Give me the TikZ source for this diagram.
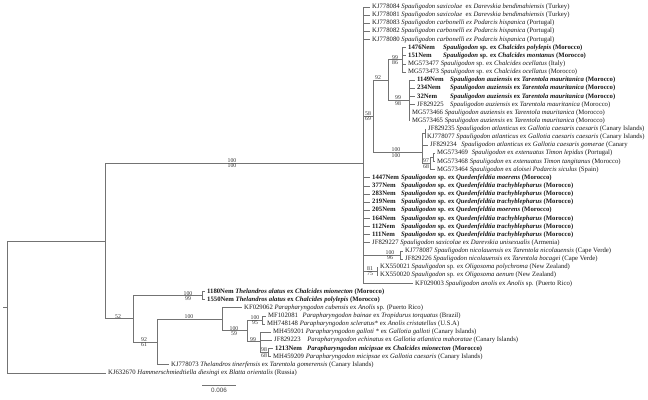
\documentclass[tikz,border=0pt]{standalone}
\usepackage{fontspec}
\setmainfont{Liberation Serif}
\newfontfamily\scalefnt{Liberation Sans}
\tikzset{
  br/.style={draw=black!55, line width=0.7pt},
  leaf/.style={anchor=west, inner sep=0pt, text=black!90, font=\fontsize{6.7}{7}\selectfont},
  nem/.style={leaf, font=\fontsize{6.7}{7}\selectfont\bfseries},
  bsa/.style={above=0.3pt, inner sep=0pt, text=black!80, font=\fontsize{5.8}{6}\selectfont},
  bsb/.style={below=0.5pt, inner sep=0pt, text=black!80, font=\fontsize{5.8}{6}\selectfont},
}
\newcommand\TreeLeaf[6]{\node[#5] (#1) at (#3,#4) {#6}; \draw[br] (#2) |- ([xshift=-2.5pt]#1.west);}
\begin{document}
\begin{tikzpicture}[x=1pt,y=-8.13pt]
\useasboundingbox (0,-0.861) rectangle (648,48.339);
% internal nodes
\coordinate (rootstub) at (3,36.882);
\coordinate (root) at (7,36.882);
\coordinate (N1) at (105,28.77);
\coordinate (S) at (363,19.19);
\coordinate (A) at (373,13.45);
\coordinate (B) at (388,9);
\coordinate (C) at (402,6.5);
\coordinate (D) at (409,11.5);
\coordinate (E) at (422,17.9);
\coordinate (E1) at (425,15.5);
\coordinate (F) at (430,19.25);
\coordinate (G) at (433,18.5);
\coordinate (Nic) at (400,30.5);
\coordinate (Oli) at (377,32.5);
\coordinate (K) at (133,38.354);
\coordinate (TA) at (202,35.5);
\coordinate (H) at (157,41.208);
\coordinate (P) at (222,38.417);
\coordinate (Q) at (247,39.833);
\coordinate (R) at (262,38.5);
\coordinate (T) at (260,41.167);
\coordinate (U) at (268,42.5);
% internal branches
\draw[br] (rootstub) -- (root);
\draw[br] (root) |- (N1);
\draw[br] (N1) |- (S);
\draw[br] (N1) |- (K);
\draw[br] (S) |- (A);
\draw[br] (A) |- (B);
\draw[br] (A) |- (E);
\draw[br] (B) |- (C);
\draw[br] (B) |- (D);
\draw[br] (E) |- (E1);
\draw[br] (E) |- (F);
\draw[br] (F) |- (G);
\draw[br] (S) |- (Nic);
\draw[br] (S) |- (Oli);
\draw[br] (K) |- (TA);
\draw[br] (K) |- (H);
\draw[br] (H) |- (P);
\draw[br] (P) |- (Q);
\draw[br] (Q) |- (R);
\draw[br] (Q) |- (T);
\draw[br] (T) |- (U);
% leaves
\TreeLeaf{L1}{S}{372}{0}{leaf}{KJ778084 \textit{Spauligodon saxicolae}\enspace ex \textit{Darevskia bendimahiensis} (Turkey)}
\TreeLeaf{L2}{S}{372}{1}{leaf}{KJ778081 \textit{Spauligodon saxicolae}\enspace ex \textit{Darevskia bendimahiensis} (Turkey)}
\TreeLeaf{L3}{S}{372}{2}{leaf}{KJ778083 \textit{Spauligodon carbonelli ex Podarcis hispanica} (Portugal)}
\TreeLeaf{L4}{S}{372}{3}{leaf}{KJ778082 \textit{Spauligodon carbonelli ex Podarcis hispanica} (Portugal)}
\TreeLeaf{L5}{S}{372}{4}{leaf}{KJ778080 \textit{Spauligodon carbonelli ex Podarcis hispanica} (Portugal)}
\TreeLeaf{L6}{C}{408}{5}{nem}{\makebox[35pt][l]{1476Nem}\textit{Spauligodon} sp. ex \textit{Chalcides polylepis} (Morocco)}
\TreeLeaf{L7}{C}{408}{6}{nem}{\makebox[35pt][l]{151Nem}\textit{Spauligodon} sp. ex \textit{Chalcides montanus} (Morocco)}
\TreeLeaf{L8}{C}{408}{7}{leaf}{MG573477 \textit{Spauligodon} sp. ex \textit{Chalcides ocellatus} (Italy)}
\TreeLeaf{L9}{C}{408}{8}{leaf}{MG573473 \textit{Spauligodon} sp. ex \textit{Chalcides ocellatus} (Morocco)}
\TreeLeaf{L10}{D}{417}{9}{nem}{\makebox[33pt][l]{1149Nem}\textit{Spauligodon auziensis} ex \textit{Tarentola mauritanica} (Morocco)}
\TreeLeaf{L11}{D}{417}{10}{nem}{\makebox[33pt][l]{234Nem}\textit{Spauligodon auziensis} ex \textit{Tarentola mauritanica} (Morocco)}
\TreeLeaf{L12}{D}{417}{11}{nem}{\makebox[33pt][l]{32Nem}\textit{Spauligodon auziensis} ex \textit{Tarentola mauritanica} (Morocco)}
\TreeLeaf{L13}{D}{417}{12}{leaf}{\makebox[33pt][l]{JF829225}\textit{Spauligodon auziensis} ex \textit{Tarentola mauritanica} (Morocco)}
\TreeLeaf{L14}{D}{412}{13}{leaf}{MG573466 \textit{Spauligodon auziensis} ex \textit{Tarentola mauritanica} (Morocco)}
\TreeLeaf{L15}{D}{412}{14}{leaf}{MG573465 \textit{Spauligodon auziensis} ex \textit{Tarentola mauritanica} (Morocco)}
\TreeLeaf{L16}{E1}{428}{15}{leaf}{JF829235 \textit{Spauligodon atlanticus} ex \textit{Gallotia caesaris caesaris} (Canary Islands)}
\TreeLeaf{L17}{E1}{427}{16}{leaf}{KJ778077 \textit{Spauligodon atlanticus} ex \textit{Gallotia caesaris caesaris} (Canary Islands)}
\TreeLeaf{L18}{E}{430}{17}{leaf}{JF829234\hspace{3pt} \textit{Spauligodon atlanticus} ex \textit{Gallotia caesaris gomerae} (Canary}
\TreeLeaf{L19}{G}{437}{18}{leaf}{MG573469\hspace{2pt} \textit{Spauligodon} ex \textit{extenuatus Timon lepidus} (Portugal)}
\TreeLeaf{L20}{G}{437}{19}{leaf}{MG573468 \textit{Spauligodon} ex \textit{extenuatus Timon tangitanus} (Morocco)}
\TreeLeaf{L21}{F}{437}{20}{leaf}{MG573464 \textit{Spauligodon} ex \textit{aloisei Podarcis siculus} (Spain)}
\TreeLeaf{L22}{S}{372}{21}{nem}{\makebox[29pt][l]{1447Nem}\textit{Spauligodon} sp. ex \textit{Quedenfeldtia moerens} (Morocco)}
\TreeLeaf{L23}{S}{372}{22}{nem}{\makebox[29pt][l]{377Nem}\textit{Spauligodon} sp. ex \textit{Quedenfeldtia trachyblepharus} (Morocco)}
\TreeLeaf{L24}{S}{372}{23}{nem}{\makebox[29pt][l]{283Nem}\textit{Spauligodon} sp. ex \textit{Quedenfeldtia trachyblepharus} (Morocco)}
\TreeLeaf{L25}{S}{372}{24}{nem}{\makebox[29pt][l]{219Nem}\textit{Spauligodon} sp. ex \textit{Quedenfeldtia trachyblepharus} (Morocco)}
\TreeLeaf{L26}{S}{372}{25}{nem}{\makebox[29pt][l]{205Nem}\textit{Spauligodon} sp. ex \textit{Quedenfeldtia moerens} (Morocco)}
\TreeLeaf{L27}{S}{372}{26}{nem}{\makebox[29pt][l]{164Nem}\textit{Spauligodon} sp. ex \textit{Quedenfeldtia trachyblepharus} (Morocco)}
\TreeLeaf{L28}{S}{372}{27}{nem}{\makebox[29pt][l]{112Nem}\textit{Spauligodon} sp. ex \textit{Quedenfeldtia trachyblepharus} (Morocco)}
\TreeLeaf{L29}{S}{372}{28}{nem}{\makebox[29pt][l]{111Nem}\textit{Spauligodon} sp. ex \textit{Quedenfeldtia trachyblepharus} (Morocco)}
\TreeLeaf{L30}{S}{372}{29}{leaf}{JF829227 \textit{Spauligodon saxicolae} ex \textit{Darevskia unisexualis} (Armenia)}
\TreeLeaf{L31}{Nic}{405}{30}{leaf}{KJ778087 \textit{Spauligodon nicolauensis} ex \textit{Tarentola nicolauensis} (Cape Verde)}
\TreeLeaf{L32}{Nic}{405}{31}{leaf}{JF829226 \textit{Spauligodon nicolauensis} ex \textit{Tarentola bocagei} (Cape Verde)}
\TreeLeaf{L33}{Oli}{380}{32}{leaf}{KX550021 \textit{Spauligodon} sp. ex \textit{Oligosoma polychroma} (New Zealand)}
\TreeLeaf{L34}{Oli}{380}{33}{leaf}{KX550020 \textit{Spauligodon} sp. ex \textit{Oligosoma aenum} (New Zealand)}
\TreeLeaf{L35}{S}{415}{34}{leaf}{KF029003 \textit{Spauligodon anolis} ex \textit{Anolis} sp. (Puerto Rico)}
\TreeLeaf{L36}{TA}{207}{35}{nem}{1180Nem \textit{Thelandros alatus} ex \textit{Chalcides mionecton} (Morocco)}
\TreeLeaf{L37}{TA}{207}{36}{nem}{1550Nem \textit{Thelandros alatus} ex \textit{Chalcides polylepis} (Morocco)}
\TreeLeaf{L38}{P}{244}{37}{leaf}{KF029062 \textit{Parapharyngodon cubensis} ex \textit{Anolis} sp. (Puerto Rico)}
\TreeLeaf{L39}{R}{268}{38}{leaf}{MF102081\hspace{3pt} \textit{Parapharyngodon bainae} ex \textit{Tropidurus torquatus} (Brazil)}
\TreeLeaf{L40}{R}{267}{39}{leaf}{MH748148 \textit{Parapharyngodon scleratus}* ex \textit{Anolis cristatellus} (U.S.A)}
\TreeLeaf{L41}{T}{273}{40}{leaf}{MH459201 \textit{Parapharyngodon galloti} * ex \textit{Gallotia galloti} (Canary Islands)}
\TreeLeaf{L42}{T}{274}{41}{leaf}{JF829223\hspace{5pt} \textit{Parapharyngodon echinatus} ex \textit{Gallotia atlantica mahoratae} (Canary Islands)}
\TreeLeaf{L43}{U}{275}{42}{nem}{\makebox[32pt][l]{1213Nem}\textit{Parapharyngodon micipsae} ex \textit{Chalcides mionecton} (Morocco)}
\TreeLeaf{L44}{U}{273}{43}{leaf}{MH459209 \textit{Parapharyngodon micipsae} ex \textit{Gallotia caesaris} (Canary Islands)}
\TreeLeaf{L45}{H}{171}{44}{leaf}{KJ778073 \textit{Thelandros tinerfensis} ex \textit{Tarentola gomerensis} (Canary Islands)}
\TreeLeaf{L46}{root}{108}{45}{leaf}{KJ632670 \textit{Hammerschmiedtiella diesingi} ex \textit{Blatta orientalis} (Russia)}
% support values
\node[bsa] (bS1) at (232,19.19) {100};
\node[bsb] (bS2) at (232,19.19) {100};
\node[bsa] (bA1) at (368,13.45) {58};
\node[bsb] (bA2) at (368,13.45) {69};
\node[bsa] (bB1) at (378,9) {92};
\node[bsa] (bC1) at (395,6.5) {99};
\node[bsb] (bC2) at (395,6.5) {86};
\node[bsa] (bD1) at (398,11.5) {99};
\node[bsb] (bD2) at (398,11.5) {98};
\node[bsa] (bE1) at (396,17.9) {100};
\node[bsb] (bE2) at (396,17.9) {100};
\node[bsa] (bF1) at (426,19.25) {97};
\node[bsb] (bF2) at (426,19.25) {68};
\node[bsa] (bN1) at (390,30.5) {100};
\node[bsb] (bN2) at (390,30.5) {96};
\node[bsa] (bO1) at (370,32.5) {81};
\node[bsb] (bO2) at (370,32.5) {75};
\node[bsa] (bK1) at (118,38.354) {52};
\node[bsa] (bTA1) at (188,35.5) {100};
\node[bsb] (bTA2) at (188,35.5) {99};
\node[bsa] (bH1) at (144,41.208) {92};
\node[bsb] (bH2) at (144,41.208) {61};
\node[bsa] (bP1) at (189,38.417) {100};
\node[bsa] (bQ1) at (234,39.833) {100};
\node[bsb] (bQ2) at (234,39.833) {59};
\node[bsa] (bR1) at (255,38.5) {100};
\node[bsb] (bR2) at (255,38.5) {95};
\node[bsa] (bT1) at (253,41.167) {99};
\node[bsa] (bU1) at (264,42.5) {98};
\node[bsb] (bU2) at (264,42.5) {68};
% scale bar
\coordinate (sb1) at (202,46.49);
\coordinate (sb2) at (236,46.49);
\draw[br] (sb1) -- (sb2);
\node[anchor=north, inner sep=0pt, text=black!75, font=\scalefnt\fontsize{6.3}{7}\selectfont] (sbl) at (219,46.9) {0.006};
\end{tikzpicture}
\end{document}
